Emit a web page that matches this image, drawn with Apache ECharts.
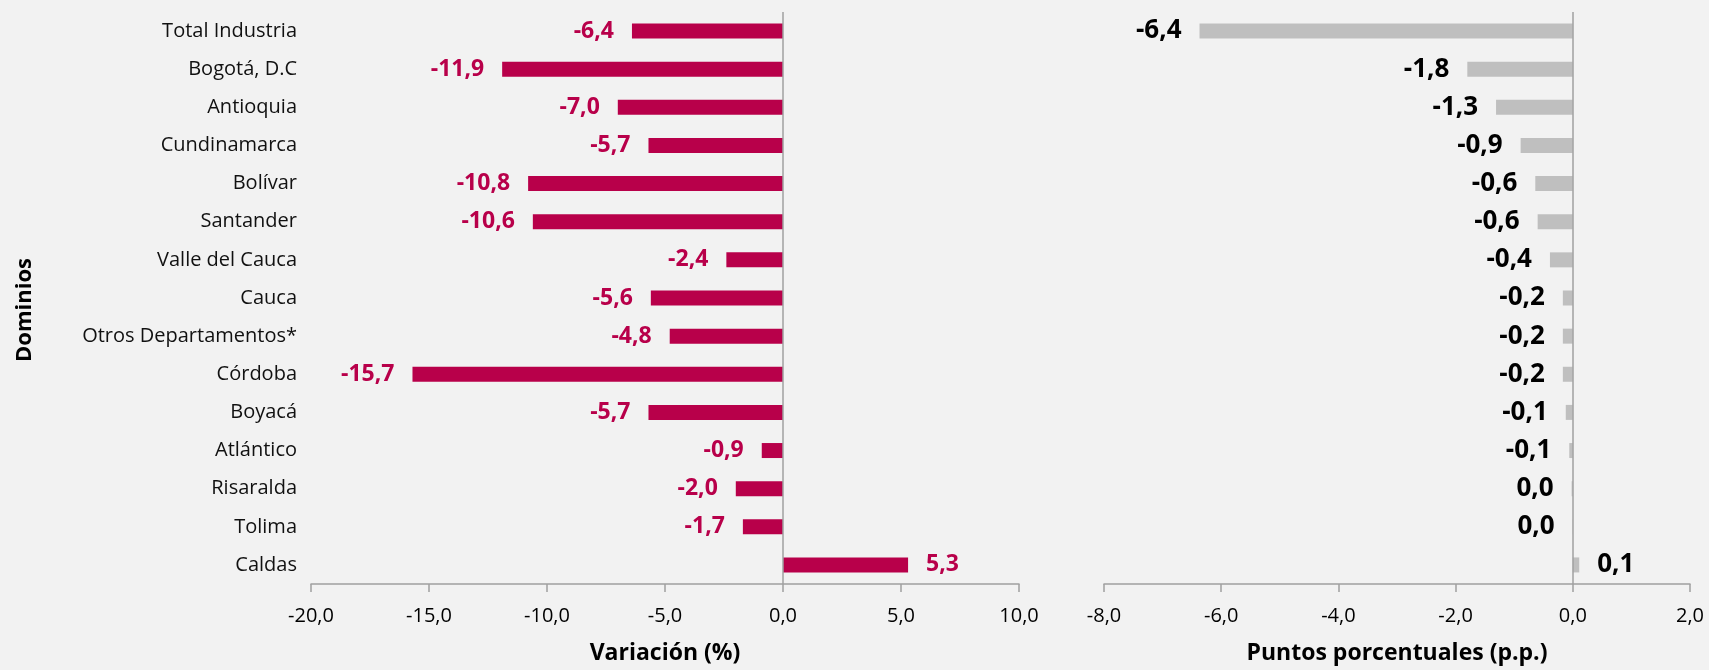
<!DOCTYPE html>
<html>
<head>
<meta charset="utf-8">
<script src="https://cdn.jsdelivr.net/npm/echarts@6/dist/echarts.min.js"></script>
<style>
html,body{margin:0;padding:0;background:#F2F2F2;}
#c{width:1709px;height:670px;}
</style>
</head>
<body>
<div id="c"></div>
<script>
const categories = ["Total Industria","Bogotá, D.C","Antioquia","Cundinamarca","Bolívar","Santander","Valle del Cauca","Cauca","Otros Departamentos*","Córdoba","Boyacá","Atlántico","Risaralda","Tolima","Caldas"];
const variacion = [-6.4,-11.9,-7.0,-5.7,-10.8,-10.6,-2.4,-5.6,-4.8,-15.7,-5.7,-0.9,-2.0,-1.7,5.3];
const contribucion = [-6.37,-1.80,-1.31,-0.89,-0.64,-0.60,-0.39,-0.17,-0.17,-0.17,-0.12,-0.06,-0.02,-0.004,0.11];
const leftTicks = {min:-20, max:10, interval:5};
const rightTicks = {min:-8, max:2, interval:2};

const FONT = "'Open Sans', 'Noto Sans', sans-serif";
function fmt(v){
  const r = Math.sign(v) * Math.round(Math.abs(v) * 10) / 10;
  let s = r.toFixed(1);
  if (s === "-0.0") s = "0.0";
  return s.replace('.', ',');
}
const AXIS_COLOR = '#A0A0A0';

function barData(vals){
  return vals.map(v => ({
    value: v,
    label: { position: v > 0 ? 'right' : 'left' }
  }));
}

const chart = echarts.init(document.getElementById('c'), null, {renderer:'canvas'});
const xAxisCommon = {
  type: 'value',
  axisLine: {show:true, onZero:false, lineStyle:{color:AXIS_COLOR, width:1.5}},
  axisTick: {show:true, inside:false, length:8, lineStyle:{color:AXIS_COLOR, width:1.5}},
  splitLine: {show:false},
  axisLabel: {fontFamily:FONT, fontSize:20, color:'#000', margin:22, formatter: v => fmt(v)},
  nameLocation: 'middle',
  nameGap: 58,
  nameTextStyle: {fontFamily:FONT, fontSize:23, fontWeight:'bold', color:'#000'}
};

chart.setOption({
  backgroundColor: '#F2F2F2',
  animation: false,
  grid: [
    {left:311, right:690, top:12, bottom:86},
    {left:1104, right:19, top:12, bottom:86}
  ],
  xAxis: [
    Object.assign({}, xAxisCommon, {gridIndex:0, min:leftTicks.min, max:leftTicks.max, interval:leftTicks.interval, name:'Variación (%)'}),
    Object.assign({}, xAxisCommon, {gridIndex:1, min:rightTicks.min, max:rightTicks.max, interval:rightTicks.interval, name:'Puntos porcentuales (p.p.)'})
  ],
  yAxis: [
    {type:'category', gridIndex:0, data:categories, inverse:true,
     axisLine:{show:false}, axisTick:{show:false}, splitLine:{show:false},
     axisLabel:{fontFamily:FONT, fontSize:20, color:'#111', margin:14}},
    {type:'category', gridIndex:1, data:categories, inverse:true,
     axisLine:{show:false}, axisTick:{show:false}, splitLine:{show:false},
     axisLabel:{show:false}}
  ],
  graphic: [{
    type:'text', rotation:Math.PI/2, x:25, y:310,
    style:{text:'Dominios', font:"bold 22px 'Open Sans', sans-serif", fill:'#000', textAlign:'center', textVerticalAlign:'middle'}
  }],
  series: [
    {type:'bar', xAxisIndex:0, yAxisIndex:0, data: barData(variacion), barWidth:15,
     itemStyle:{color:'#B8004A'},
     label:{show:true, distance:18, fontFamily:FONT, fontSize:23, fontWeight:'bold', color:'#B8004A', formatter: p => fmt(p.value)},
     markLine:{silent:true, symbol:'none', label:{show:false}, lineStyle:{color:AXIS_COLOR, width:1.5, type:'solid'}, data:[{xAxis:0}]}
    },
    {type:'bar', xAxisIndex:1, yAxisIndex:1, data: barData(contribucion), barWidth:15,
     itemStyle:{color:'#BFBFBF'},
     label:{show:true, distance:18, fontFamily:FONT, fontSize:26, fontWeight:'bold', color:'#000', formatter: p => fmt(p.value)},
     markLine:{silent:true, symbol:'none', label:{show:false}, lineStyle:{color:AXIS_COLOR, width:1.5, type:'solid'}, data:[{xAxis:0}]}
    }
  ]
});
</script>
</body>
</html>
